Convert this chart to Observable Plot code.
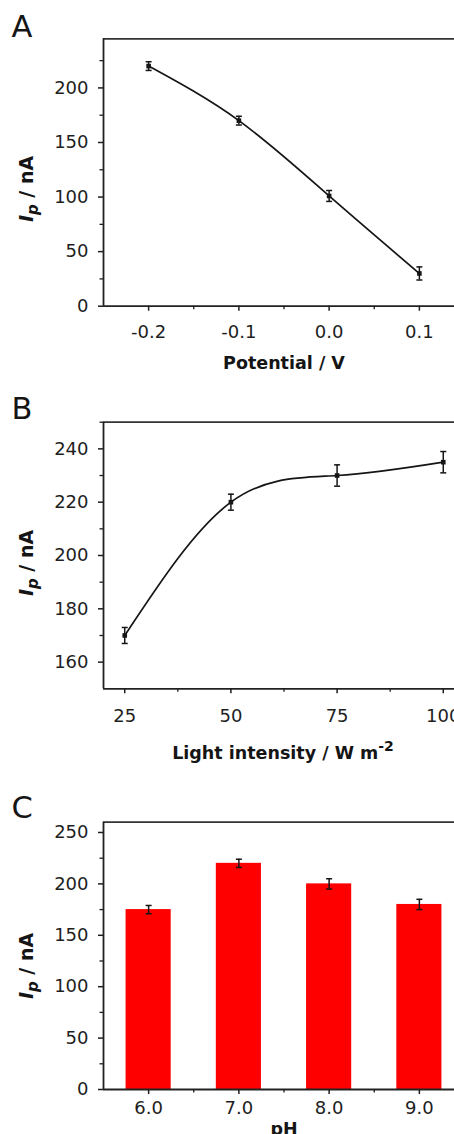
<!DOCTYPE html>
<html><head><meta charset="utf-8">
<script src="https://cdn.jsdelivr.net/npm/d3@7"></script>
<script src="https://cdn.jsdelivr.net/npm/@observablehq/plot@0.6"></script>
<style>
html,body{margin:0;padding:0;background:#fff;overflow:hidden;width:454px;height:1134px}
#root{width:464px}
svg{display:block;max-width:none !important;}
</style></head><body><div id="root"></div>
<script>
// ---- Panel A: potential ----
const potential = [-0.2, -0.1, 0.0, 0.1];
const ipA = [220, 170, 101, 30];
const errA = [4, 4, 5, 6];
const xTicksA = [-0.2, -0.1, 0.0, 0.1];
const xMinorA = [-0.15, -0.05, 0.05];
const yTicksA = [0, 50, 100, 150, 200];
const yMinorA = [25, 75, 125, 175, 225];
// ---- Panel B: light intensity ----
const intensity = [25, 50, 75, 100];
const ipB = [170, 220, 230, 235];
const errB = [3, 3, 4, 4];
const xTicksB = [25, 50, 75, 100];
const xMinorB = [37.5, 62.5, 87.5];
const yTicksB = [160, 180, 200, 220, 240];
const yMinorB = [170, 190, 210, 230, 250];
// ---- Panel C: pH ----
const pH = [6.0, 7.0, 8.0, 9.0];
const ipC = [175, 220, 200, 180];
const errC = [4, 4, 5, 5];
const xTicksC = [6.0, 7.0, 8.0, 9.0];
const xMinorC = [6.5, 7.5, 8.5];
const yTicksC = [0, 50, 100, 150, 200, 250];
const yMinorC = [25, 75, 125, 175, 225];

const FONT = "'DejaVu Sans', 'Liberation Sans', Arial, sans-serif";
const INK = "#151515";
const capSym = {draw(ctx, size) { const r = Math.sqrt(size / Math.PI); ctx.moveTo(-r, 0); ctx.lineTo(r, 0); }};

function rows(xs, ys, es) { return xs.map((x, i) => ({x, y: ys[i], e: es[i]})); }

function errorMarks(data) {
  return [
    Plot.ruleX(data, {x: "x", y1: d => d.y - d.e, y2: d => d.y + d.e, stroke: INK, strokeWidth: 1.5}),
    Plot.dot(data, {x: "x", y: d => d.y + d.e, symbol: capSym, r: 3, stroke: INK, strokeWidth: 1.5}),
    Plot.dot(data, {x: "x", y: d => d.y - d.e, symbol: capSym, r: 3, stroke: INK, strokeWidth: 1.5})
  ];
}

function panel(o) {
  const svg = Plot.plot({
    width: 464, height: o.height,
    marginLeft: 103, marginRight: 0, marginTop: o.mt, marginBottom: o.mb,
    style: {fontFamily: FONT, fontSize: "18px", color: "#1e1e1e", background: "#fff", overflow: "hidden", maxWidth: "none"},
    x: {domain: o.xDomain},
    y: {domain: o.yDomain},
    marks: [
      ...o.marks,
      Plot.ruleY([o.yDomain[0]], {stroke: "#222", strokeWidth: 1.8}),
      Plot.ruleY([o.yDomain[1]], {stroke: "#333", strokeWidth: 1.8}),
      Plot.ruleX([o.xDomain[0]], {stroke: "#222", strokeWidth: 1.8}),
      Plot.axisX({ticks: o.xTicks, tickFormat: o.xFormat, tickSize: 5, tickPadding: o.xPad, strokeWidth: 1.5, label: null}),
      Plot.axisX({ticks: o.xMinor, tickFormat: () => "", tickSize: 3.5, strokeWidth: 1.3, label: null}),
      Plot.axisY({ticks: o.yTicks, tickFormat: d => String(d), tickSize: 5, tickPadding: 10, strokeWidth: 1.5, label: null}),
      Plot.axisY({ticks: o.yMinor, tickFormat: () => "", tickSize: 3.5, strokeWidth: 1.3, label: null})
    ]
  });
  const s = d3.select(svg);
  // panel letter
  s.append("text").attr("x", 11.5).attr("y", o.letterY).attr("text-anchor", "start")
    .attr("font-family", FONT).attr("font-size", 30.5).attr("fill", INK).text(o.letter);
  // y label
  const t = s.append("text")
    .attr("transform", `translate(33,${o.yLabelY}) rotate(-90)`)
    .attr("text-anchor", "middle").attr("font-family", FONT).attr("font-weight", "bold")
    .attr("font-size", 19).attr("fill", INK);
  t.append("tspan").attr("font-style", "italic").text("I");
  t.append("tspan").attr("font-style", "italic").attr("font-size", 15).attr("dy", 5).text("p");
  t.append("tspan").attr("dy", -5).text(" / nA");
  // x label
  const xl = s.append("text").attr("x", o.xLabelX).attr("y", o.xLabelY)
    .attr("text-anchor", "middle").attr("font-family", FONT).attr("font-weight", "bold")
    .attr("font-size", 17.5).attr("fill", INK);
  o.xLabel(xl);
  document.getElementById("root").appendChild(svg);
}

const dataA = rows(potential, ipA, errA);
panel({
  letter: "A", letterY: 36.5, height: 380, mt: 38.3, mb: 74.3,
  xDomain: [-0.25, 0.15], yDomain: [0, 245],
  xTicks: xTicksA, xMinor: xMinorA, yTicks: yTicksA, yMinor: yMinorA,
  xFormat: d => d.toFixed(1), xPad: 14,
  yLabelY: 189, xLabelX: 284, xLabelY: 368.5,
  xLabel: t => t.text("Potential / V"),
  marks: [
    Plot.line(dataA, {x: "x", y: "y", curve: "natural", stroke: INK, strokeWidth: 1.7}),
    ...errorMarks(dataA),
    Plot.dot(dataA, {x: "x", y: "y", symbol: "square", r: 2.6, fill: INK})
  ]
});

const dataB = rows(intensity, ipB, errB);
panel({
  letter: "B", letterY: 38.5, height: 390, mt: 41.7, mb: 81.7,
  xDomain: [20, 105], yDomain: [150, 250],
  xTicks: xTicksB, xMinor: xMinorB, yTicks: yTicksB, yMinor: yMinorB,
  xFormat: d => String(d), xPad: 15,
  yLabelY: 183, xLabelX: 283, xLabelY: 379.3,
  xLabel: t => { t.append("tspan").text("Light intensity / W m"); t.append("tspan").attr("font-size", 14).attr("dy", -8).text("-2"); },
  marks: [
    Plot.line(dataB, {x: "x", y: "y", curve: "natural", stroke: INK, strokeWidth: 1.7}),
    ...errorMarks(dataB),
    Plot.dot(dataB, {x: "x", y: "y", symbol: "square", r: 2.6, fill: INK})
  ]
});

const dataC = rows(pH, ipC, errC);
panel({
  letter: "C", letterY: 47.5, height: 364, mt: 51.7, mb: 45,
  xDomain: [5.5, 9.5], yDomain: [0, 260],
  xTicks: xTicksC, xMinor: xMinorC, yTicks: yTicksC, yMinor: yMinorC,
  xFormat: d => d.toFixed(1), xPad: 7,
  yLabelY: 196, xLabelX: 284, xLabelY: 364.5,
  xLabel: t => t.text("pH"),
  marks: [
    Plot.rectY(dataC, {x1: d => d.x - 0.25, x2: d => d.x + 0.25, y: "y", fill: "#fe0000"}),
    ...errorMarks(dataC),
  ]
});
</script></body></html>
